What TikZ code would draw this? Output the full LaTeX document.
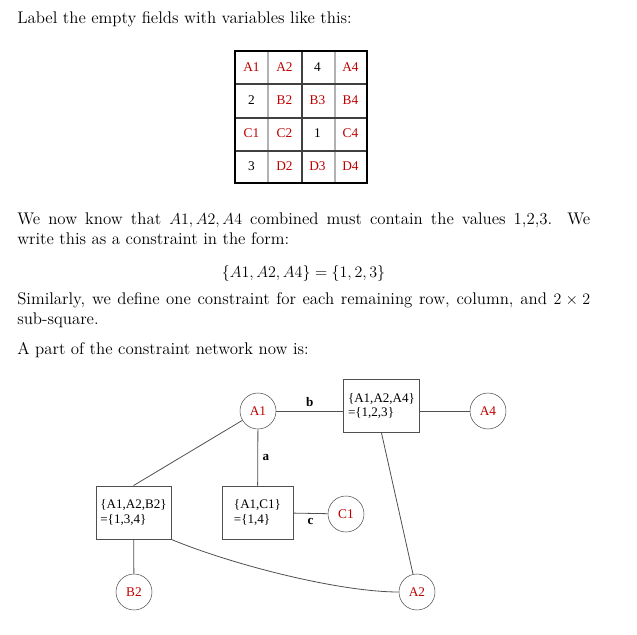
\documentclass[tikz,border=0pt]{standalone}
\usepackage{fontspec}
\newfontfamily\timesfont{Liberation Serif}
\usetikzlibrary{positioning}
\definecolor{varred}{RGB}{192,0,0}
\definecolor{linegray}{RGB}{80,80,80}

\newcommand{\fullline}[1]{\makebox[429.75pt][s]{#1}}

\begin{document}
\begin{tikzpicture}[
    x=0.75pt, y=-0.75pt,
    every node/.style={font=\fontsize{12.65}{15}\selectfont},
    para/.style={anchor=base west, inner sep=0pt},
    cell/.style={inner sep=0pt, font=\timesfont\fontsize{10}{11}\selectfont},
    var/.style={circle, draw=linegray, minimum size=27pt, inner sep=0pt, text=varred, font=\timesfont\fontsize{10}{11}\selectfont},
    cons/.style={rectangle, draw=linegray, minimum width=53.25pt, minimum height=40pt, align=left, font=\timesfont\fontsize{9.8}{11}\selectfont},
    edgelbl/.style={font=\timesfont\bfseries\fontsize{9.8}{11}\selectfont},
    link/.style={draw=linegray, line width=0.6pt}
]
\path[use as bounding box, fill=white] (0,0) rectangle (637,635);

\node[para] (intro) at (17,24) {Label the empty fields with variables like this:};

% the 4x4 grid
\draw[gray!60, line width=1pt] (268,51) -- (268,183) (335,51) -- (335,183);
\draw[black!75, line width=0.8pt] (302,51) -- (302,183) (235,84) -- (367,84) (235,118) -- (367,118) (235,151) -- (367,151);
\draw[black, line width=0.8pt] (235,51) rectangle (367,183);
\foreach \t/\cx/\cy in {A1/0/0, A2/1/0, A4/3/0, B2/1/1, B3/2/1, B4/3/1, C1/0/2, C2/1/2, C4/3/2, D2/1/3, D3/2/3, D4/3/3}
    \node[cell, text=varred] (cell-\t) at (251.5+33*\cx, 67.5+33*\cy) {\t};
\foreach \t/\cx/\cy in {4/2/0, 2/0/1, 1/2/2, 3/0/3}
    \node[cell] (num-\cx-\cy) at (251.5+33*\cx, 67.5+33*\cy) {\t};

\node[para] (know1) at (17,225) {\fullline{We now know that $A1, A2, A4$ combined must contain the values 1,2,3. We}};
\node[para] (know2) at (17,245) {write this as a constraint in the form:};
\node[anchor=base, inner sep=0pt] (rowform) at (303.5,278) {$\{A1, A2, A4\} = \{1, 2, 3\}$};
\node[para] (sim1) at (17,305) {\fullline{Similarly, we define one constraint for each remaining row, column, and $2 \times 2$}};
\node[para] (sim2) at (17,325) {sub-square.};
\node[para] (part) at (17,355) {A part of the constraint network now is:};

% constraint network
\node[var] (A1) at (258,411) {A1};
\node[cons] (rowA) at (381.5,406) {\{A1,A2,A4\}\\=\{1,2,3\}};
\node[var] (A4) at (488,411) {A4};
\node[cons] (sqone) at (133.5,512.5) {\{A1,A2,B2\}\\=\{1,3,4\}};
\node[cons] (colone) at (257.5,512.5) {\{A1,C1\}\\=\{1,4\}};
\node[var] (C1) at (346,514) {C1};
\node[var] (B2) at (134,592) {B2};
\node[var] (A2) at (417,592) {A2};

\draw[link] (A1) -- (A1 -| rowA.west) node[midway, above, edgelbl] (lblb) {b};
\draw[link] (rowA.east |- A4) -- (A4);
\draw[link] (A1) -- (sqone.north);
\draw[link] (A1) -- (colone) node[midway, right, edgelbl] (lbla) {a};
\draw[link] (colone) -- (C1) node[midway, below, edgelbl] (lblc) {c};
\draw[link] (rowA.south) -- (A2);
\draw[link] (sqone) -- (B2);
\draw[link] (sqone.south east) .. controls +(60,25) and +(-60,0) .. (A2.west);

\end{tikzpicture}
\end{document}
